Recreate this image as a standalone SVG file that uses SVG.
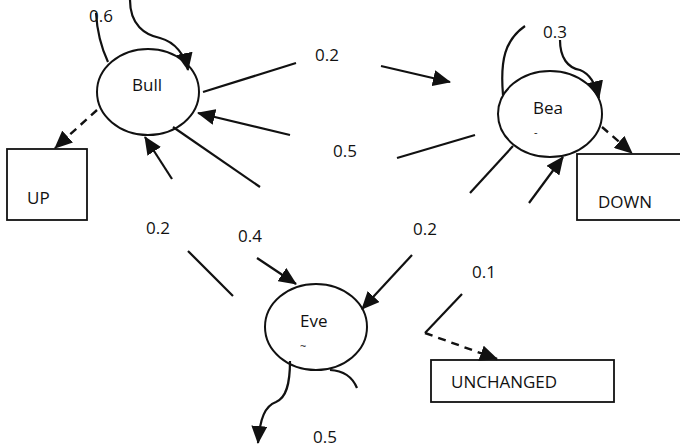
<svg xmlns="http://www.w3.org/2000/svg" width="680" height="447" viewBox="0 0 680 447">
  <style>
    text { font-family: "Open Sans", "Noto Sans", "Liberation Sans", sans-serif; font-size: 17px; fill: #111; }
    .st { fill: #fff; stroke: #111; stroke-width: 2; }
    .box { fill: #fff; stroke: #111; stroke-width: 1.8; }
    .ln { fill: none; stroke: #111; stroke-width: 2.2; }
    .dash { fill: none; stroke: #111; stroke-width: 2.4; stroke-dasharray: 8 6; }
    .mark { font-size: 11px; }
  </style>
  <defs>
    <marker id="ah" markerUnits="userSpaceOnUse" markerWidth="18" markerHeight="16" refX="17" refY="8" orient="auto">
      <path d="M0,0 L18,8 L0,16 z" fill="#111"/>
    </marker>
  </defs>
  <rect width="680" height="447" fill="#fff"/>

  <!-- outcome boxes -->
  <g id="up">
    <rect class="box" x="7" y="149" width="80" height="71"/>
    <text x="27" y="204">UP</text>
  </g>
  <g id="down">
    <rect class="box" x="577" y="154" width="110" height="66"/>
    <text x="598" y="208">DOWN</text>
  </g>
  <g id="unchanged">
    <rect class="box" x="431" y="360" width="183" height="42"/>
    <text x="451" y="388">UNCHANGED</text>
  </g>

  <!-- state nodes -->
  <g id="bull">
    <ellipse class="st" cx="148" cy="92" rx="51" ry="43"/>
    <text x="132" y="91">Bull</text>
  </g>
  <g id="bear">
    <ellipse class="st" cx="550" cy="114" rx="52" ry="43"/>
    <text x="533" y="114">Bea</text>
    <text class="mark" x="534" y="136">-</text>
  </g>
  <g id="even">
    <ellipse class="st" cx="316" cy="327" rx="51" ry="43"/>
    <text x="300" y="327">Eve</text>
    <text class="mark" x="300" y="350">~</text>
  </g>

  <!-- transitions -->
  <g id="connectors">
    <!-- Bull self loop -->
    <path class="ln" d="M108,62 C100,45 97,30 96,13"/>
    <path class="ln" d="M130,0 C130,25 145,35 160,38 C175,42 185,55 188,70" marker-end="url(#ah)"/>
    <!-- Bull to Bear -->
    <path class="ln" d="M203,92 L296,63"/>
    <path class="ln" d="M381,66 L450,82" marker-end="url(#ah)"/>
    <!-- Bear to Bull -->
    <path class="ln" d="M475,135 L397,158"/>
    <path class="ln" d="M290,135 L198,113" marker-end="url(#ah)"/>
    <!-- Bull to UP -->
    <path class="dash" d="M97,110 L55,148" marker-end="url(#ah)"/>
    <!-- Even to Bull -->
    <path class="ln" d="M233,296 L188,251"/>
    <path class="ln" d="M172,179 L145,137" marker-end="url(#ah)"/>
    <!-- Bull to Even -->
    <path class="ln" d="M173,127 L260,187"/>
    <path class="ln" d="M257,258 L296,284" marker-end="url(#ah)"/>
    <!-- Bear self loop -->
    <path class="ln" d="M503,95 C500,60 505,40 525,26"/>
    <path class="ln" d="M560,40 C560,58 568,68 580,70 C590,74 596,85 599,98" marker-end="url(#ah)"/>
    <!-- Bear to DOWN -->
    <path class="dash" d="M602,127 L632,153" marker-end="url(#ah)"/>
    <!-- Bear to Even -->
    <path class="ln" d="M513,146 L470,193"/>
    <!-- Even to Bear -->
    <path class="ln" d="M529,203 L563,157" marker-end="url(#ah)"/>
    <path class="ln" d="M412,255 L362,309" marker-end="url(#ah)"/>
    <!-- Even to UNCHANGED -->
    <path class="ln" d="M462,294 L425,333"/>
    <path class="dash" d="M425,333 L497,359" marker-end="url(#ah)"/>
    <!-- Even self loop -->
    <path class="ln" d="M290,361 C290,385 286,398 276,402 C265,406 260,418 258,443" marker-end="url(#ah)"/>
    <path class="ln" d="M330,370 Q350,371 357,388"/>
  </g>

  <!-- probabilities -->
  <g id="labels">
    <text x="89" y="22">0.6</text>
    <text x="315" y="61">0.2</text>
    <text x="543" y="38">0.3</text>
    <text x="333" y="157">0.5</text>
    <text x="146" y="234">0.2</text>
    <text x="238" y="242">0.4</text>
    <text x="413" y="235">0.2</text>
    <text x="472" y="278">0.1</text>
    <text x="313" y="443">0.5</text>
  </g>
</svg>
